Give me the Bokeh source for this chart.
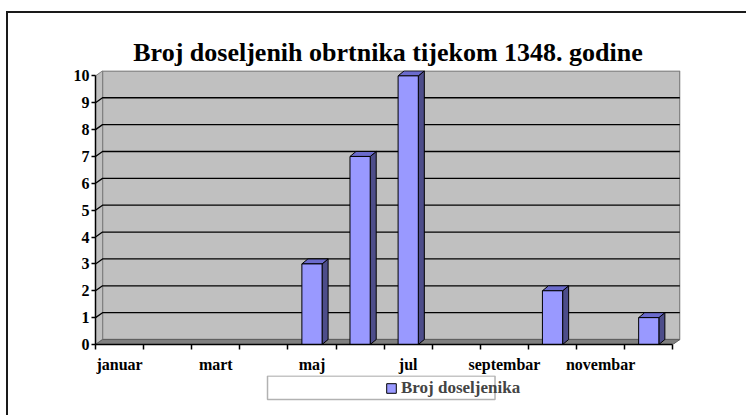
from bokeh.plotting import figure
from bokeh.layouts import column
from bokeh.models import Range1d, FixedTicker, Legend, LegendItem, BoxAnnotation
from bokeh.embed import file_html
from bokeh.resources import INLINE

months = ["januar", "februar", "mart", "april", "maj", "jun", "jul",
          "august", "septembar", "oktobar", "novembar", "decembar"]
values = [0, 0, 0, 0, 3, 7, 10, 0, 0, 2, 0, 1]
shown_labels = ["januar", "mart", "maj", "jul", "septembar", "novembar"]
y_ticks = [0, 1, 2, 3, 4, 5, 6, 7, 8, 9, 10]
series_name = "Broj doseljenika"
title_text = "Broj doseljenih obrtnika tijekom 1348. godine"

n = len(months)
ymax = max(y_ticks)
wdx, wdy = 0.146, 0.185      # wall depth offset (data units)
bdx, bdy = 0.125, 0.185      # bar depth offset
bw = 0.42                    # bar width

FONT = "Liberation Serif"
BAR = "#9999ff"

p = figure(width=738, height=362, output_backend="svg",
           toolbar_location=None, x_range=Range1d(0, n + 0.16),
           y_range=Range1d(0, ymax + 0.2), min_border_left=87,
           min_border_right=66, min_border_top=57, min_border_bottom=30,
           background_fill_color="white", border_fill_color="white")
p.outline_line_color = None
p.grid.visible = False

p.title.text = title_text
p.title.text_font = FONT
p.title.text_font_size = "26px"
p.title.text_font_style = "bold"
p.title.text_color = "black"
p.title.align = "center"
p.title.standoff = 8

# back wall
p.patch([wdx, n + wdx, n + wdx, wdx], [wdy, wdy, ymax + wdy, ymax + wdy],
        fill_color="#c0c0c0", line_color="#808080", line_width=1.5)
# left side wall
p.patch([0, wdx, wdx, 0], [0, wdy, ymax + wdy, ymax],
        fill_color="#c0c0c0", line_color="#808080", line_width=1)
# floor
p.patch([0, n, n + wdx, wdx], [0, 0, wdy, wdy],
        fill_color="#808080", line_color="#606060", line_width=1)
# gridlines
gx, gy = [], []
for k in y_ticks[1:-1]:
    gx.append([0, wdx, n + wdx])
    gy.append([k, k + wdy, k + wdy])
p.multi_line(gx, gy, line_color="black", line_width=1.3)

# bars
for i, v in enumerate(values):
    if v <= 0:
        continue
    c = i + 0.5
    l, r = c - bw / 2, c + bw / 2
    p.patch([r, r + bdx, r + bdx, r], [0, bdy, v + bdy, v],
            fill_color="#4d4d8a", line_color="black", line_width=1)
    p.patch([l, l + bdx, r + bdx, r], [v, v + bdy, v + bdy, v],
            fill_color="#6b6bcc", line_color="black", line_width=1)
p.quad(left=[i + 0.5 - bw / 2 for i, v in enumerate(values) if v > 0],
       right=[i + 0.5 + bw / 2 for i, v in enumerate(values) if v > 0],
       bottom=0, top=[v for v in values if v > 0],
       fill_color=BAR, line_color="black", line_width=1)

# axes
p.yaxis.ticker = FixedTicker(ticks=y_ticks)
p.yaxis.bounds = (0, ymax)
p.yaxis.major_tick_out = 4
p.yaxis.major_tick_in = 0
p.yaxis.minor_tick_line_color = None
p.yaxis.major_label_standoff = 2
p.yaxis.axis_line_width = 1.5
p.yaxis.major_tick_line_width = 1.5

label_pos = [months.index(m) + 0.5 for m in shown_labels]
p.xaxis.ticker = FixedTicker(ticks=label_pos, minor_ticks=list(range(n + 1)))
p.xaxis.major_label_overrides = {pos: m for pos, m in zip(label_pos, shown_labels)}
p.xaxis.bounds = (0, n)
p.xaxis.major_tick_out = 0
p.xaxis.major_tick_in = 0
p.xaxis.minor_tick_out = 5
p.xaxis.minor_tick_in = 0
p.xaxis.minor_tick_line_width = 1.5
p.xaxis.axis_line_width = 1.5
p.xaxis.major_label_standoff = 6

for ax in (p.xaxis[0], p.yaxis[0]):
    ax.major_label_text_font = FONT
    ax.major_label_text_font_style = "bold"
    ax.major_label_text_font_size = "16px"
    ax.major_label_text_color = "black"
    ax.axis_line_color = "black"

# legend strip: a small figure whose data units are pixels
lg = figure(width=738, height=40, output_backend="svg", toolbar_location=None,
            x_range=Range1d(0, 738), y_range=Range1d(0, 40),
            min_border=0, background_fill_color="white",
            border_fill_color="white")
lg.axis.visible = False
lg.grid.visible = False
lg.outline_line_color = None
swatch = lg.quad(left=[-20], right=[-10], bottom=[-20], top=[-10],
                 fill_color=BAR, line_color="black", line_width=1)
lg.add_layout(BoxAnnotation(left=217, right=504, bottom=16, top=39.5,
                            fill_color="white", fill_alpha=1,
                            line_color="black", line_width=1.5,
                            level="underlay"))
legend = Legend(items=[LegendItem(label=series_name, renderers=[swatch])],
                location=(290, 17), padding=0, margin=0, spacing=0,
                glyph_width=12, glyph_height=12, label_standoff=4,
                label_height=17, label_text_font=FONT,
                label_text_font_style="bold", label_text_font_size="17px",
                border_line_color=None, background_fill_alpha=0)
lg.add_layout(legend, "center")

layout = column(p, lg, spacing=0)
layout.styles = {"border-top": "2px solid #1a1a1a",
                 "border-left": "2px solid #1a1a1a",
                 "margin-top": "11px", "margin-left": "6px"}

open("out.html", "w").write(file_html(layout, INLINE))
